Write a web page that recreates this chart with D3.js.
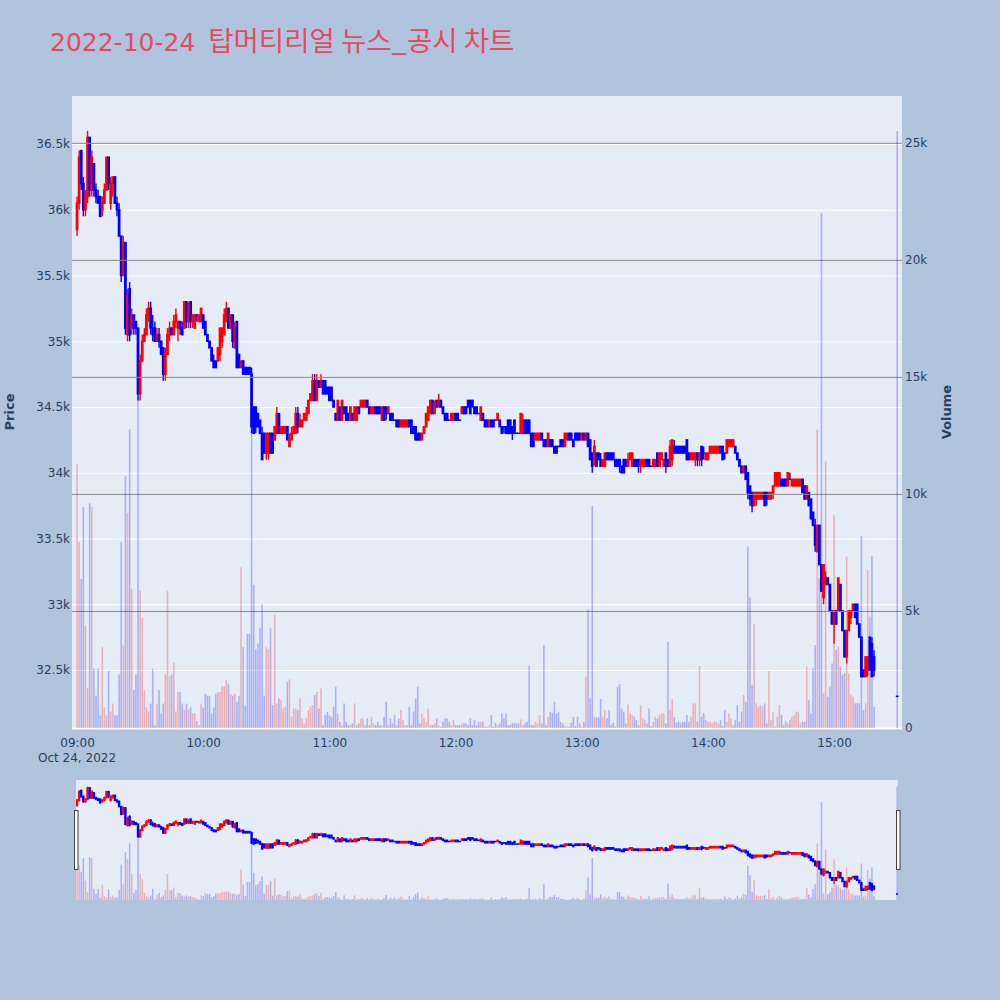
<!DOCTYPE html>
<html><head><meta charset="utf-8">
<script src="https://cdn.jsdelivr.net/npm/d3@7"></script>
<style>body{margin:0;background:#b0c4de;} svg{display:block;font-family:'DejaVu Sans','Noto Sans CJK KR',sans-serif;}</style>
</head><body><svg id="c" width="1000" height="1000"></svg>
<script>
// minute offsets from 09:00 (continuous session 09:00-15:19, closing auction 15:30)
const minuteIdx = d3.range(380).concat([390]);
const priceTicks = [32500,33000,33500,34000,34500,35000,35500,36000,36500];
const volumeTicks = [0,5000,10000,15000,20000,25000];
const hourTicks = [0,60,120,180,240,300,360];

const opens = [
35850,36050,36450,36200,36000,36100,36550,36150,36350,36150,
36100,36100,36000,36050,36150,36400,36050,36200,36250,36050,
36000,35800,35500,35750,35050,35400,35100,35200,35150,35100,
34600,34850,35000,35050,35200,35250,35100,35100,35000,35050,
35000,34950,34750,34900,35050,35100,35050,35150,35100,35150,
35100,35100,35300,35150,35300,35150,35100,35200,35150,35150,
35200,35150,35050,35000,34950,34850,34850,34850,34900,35000,
35050,35150,35250,35100,35200,34950,35150,34900,34800,34850,
34800,34800,34800,34750,34500,34500,34450,34400,34300,34300,
34150,34150,34300,34300,34250,34300,34450,34300,34300,34300,
34350,34200,34250,34300,34300,34450,34350,34350,34400,34400,
34450,34550,34550,34700,34550,34700,34650,34700,34700,34650,
34650,34650,34550,34450,34400,34500,34400,34500,34500,34450,
34400,34450,34400,34400,34500,34500,34500,34500,34550,34500,
34450,34450,34500,34500,34500,34400,34500,34500,34450,34450,
34450,34400,34400,34400,34350,34350,34350,34350,34400,34400,
34350,34350,34300,34300,34250,34300,34350,34400,34450,34550,
34450,34550,34500,34550,34500,34450,34450,34400,34400,34400,
34450,34450,34400,34450,34500,34500,34550,34550,34550,34500,
34500,34450,34400,34450,34400,34400,34350,34400,34400,34400,
34400,34400,34350,34350,34350,34400,34400,34350,34400,34300,
34300,34300,34300,34400,34400,34400,34300,34300,34250,34250,
34250,34300,34250,34250,34200,34250,34250,34200,34200,34200,
34250,34250,34200,34250,34300,34300,34250,34300,34300,34300,
34250,34300,34250,34300,34250,34150,34100,34150,34150,34100,
34050,34050,34150,34150,34150,34150,34100,34100,34100,34050,
34100,34100,34050,34100,34050,34100,34100,34100,34050,34050,
34050,34100,34100,34050,34050,34050,34150,34050,34100,34050,
34150,34100,34050,34100,34200,34200,34200,34200,34200,34200,
34250,34150,34100,34100,34100,34150,34100,34200,34150,34100,
34100,34150,34150,34150,34150,34150,34200,34200,34150,34150,
34200,34200,34200,34200,34150,34100,34050,34000,34050,34000,
33900,33850,33750,33800,33800,33800,33800,33850,33850,33800,
33800,33850,33900,33900,33900,33950,33950,33950,33900,33950,
33900,33900,33900,33900,33900,33950,33900,33800,33850,33800,
33700,33600,33400,33600,33300,33050,33150,33200,33150,32950,
32850,32950,32950,33150,32950,32800,32600,32800,32900,32950,
33000,33000,32850,32750,32500,32450,32500,32750,32700,32600,
32300];

const highs = [
36100,36450,36450,36250,36150,36600,36550,36450,36350,36200,
36150,36100,36100,36200,36400,36400,36250,36250,36250,36100,
36050,35800,35800,35750,35400,35450,35250,35200,35150,35100,
34900,35050,35100,35250,35300,35300,35200,35150,35100,35100,
35000,34950,34950,35100,35150,35100,35200,35250,35150,35150,
35150,35300,35300,35300,35300,35200,35200,35200,35200,35250,
35200,35150,35050,35000,34950,34900,34850,34950,35100,35100,
35250,35300,35250,35200,35200,35150,35150,34900,34850,34850,
34800,34800,34800,34800,34500,34500,34450,34400,34350,34300,
34300,34300,34300,34300,34350,34500,34450,34350,34350,34350,
34350,34300,34350,34350,34500,34500,34450,34400,34450,34500,
34550,34600,34750,34750,34750,34700,34750,34700,34700,34650,
34650,34650,34550,34450,34550,34500,34550,34500,34500,34450,
34500,34450,34500,34500,34500,34550,34550,34550,34550,34500,
34500,34500,34500,34500,34500,34500,34500,34500,34500,34450,
34450,34400,34400,34400,34400,34400,34400,34400,34400,34400,
34350,34350,34300,34300,34300,34350,34450,34500,34550,34550,
34550,34550,34600,34550,34500,34450,34450,34400,34450,34450,
34450,34450,34400,34500,34500,34500,34550,34550,34550,34500,
34500,34450,34500,34450,34400,34400,34400,34400,34400,34400,
34450,34400,34350,34350,34350,34400,34400,34350,34400,34300,
34300,34450,34450,34400,34400,34400,34300,34300,34300,34300,
34300,34300,34250,34250,34300,34250,34250,34200,34200,34200,
34250,34250,34300,34300,34300,34300,34250,34300,34300,34300,
34300,34300,34300,34300,34250,34150,34250,34150,34150,34150,
34100,34150,34150,34150,34150,34150,34100,34100,34100,34050,
34100,34100,34150,34150,34150,34100,34100,34100,34100,34100,
34100,34100,34100,34050,34100,34100,34150,34150,34150,34100,
34150,34100,34250,34250,34250,34200,34200,34200,34200,34200,
34250,34150,34150,34150,34150,34150,34150,34200,34200,34150,
34150,34200,34200,34200,34200,34200,34200,34200,34150,34250,
34250,34250,34250,34200,34150,34100,34050,34050,34050,34000,
33900,33850,33850,33850,33850,33850,33850,33850,33850,33850,
33850,33900,34000,34000,34000,33950,33950,33950,34000,34000,
33950,33950,33950,33950,33950,33950,33900,33900,33850,33800,
33700,33650,33600,33600,33300,33300,33250,33200,33150,32950,
32950,32950,33200,33150,32950,32800,32800,32950,32950,33000,
33000,33000,32850,32750,32500,32600,32600,32750,32750,32650,
32300];

const lows = [
35800,36000,36150,35950,35950,36050,36100,36100,36100,36050,
36050,35950,35950,36050,36150,36150,36000,36100,36050,35950,
35800,35450,35500,35050,35000,35000,35050,35050,35050,34550,
34550,34850,35000,35050,35150,35050,35000,35000,35000,34950,
34900,34700,34700,34900,35000,35050,35050,35100,35000,35050,
35050,35100,35100,35100,35100,35100,35100,35150,35150,35150,
35100,35050,35000,34950,34850,34800,34800,34850,34850,34950,
35050,35150,35100,35100,34950,34950,34800,34800,34800,34750,
34750,34750,34750,34300,34300,34300,34350,34300,34100,34150,
34100,34100,34150,34150,34250,34300,34300,34300,34300,34300,
34250,34200,34250,34300,34300,34300,34350,34350,34400,34400,
34450,34550,34550,34550,34550,34650,34650,34600,34600,34600,
34550,34550,34500,34400,34400,34400,34400,34450,34400,34400,
34400,34400,34400,34400,34450,34500,34500,34500,34500,34450,
34450,34450,34450,34450,34450,34400,34400,34400,34450,34400,
34400,34400,34350,34350,34350,34350,34350,34350,34350,34300,
34300,34250,34250,34250,34250,34300,34350,34400,34450,34450,
34450,34500,34500,34500,34450,34400,34400,34400,34400,34400,
34400,34400,34400,34450,34450,34450,34500,34450,34500,34450,
34450,34450,34400,34400,34350,34350,34350,34350,34350,34400,
34400,34350,34300,34300,34300,34300,34300,34250,34300,34300,
34300,34300,34300,34300,34300,34300,34200,34200,34250,34250,
34250,34250,34200,34200,34200,34200,34200,34150,34150,34200,
34200,34200,34200,34250,34250,34250,34200,34250,34250,34250,
34250,34250,34250,34200,34100,34000,34050,34050,34100,34050,
34050,34050,34100,34100,34100,34100,34050,34050,34000,34000,
34000,34050,34050,34100,34050,34050,34050,34000,34000,34050,
34050,34050,34050,34050,34050,34050,34050,34050,34100,34050,
34000,34050,34050,34050,34150,34150,34150,34150,34150,34150,
34100,34100,34100,34100,34050,34050,34050,34050,34100,34100,
34100,34150,34150,34150,34150,34150,34150,34100,34100,34150,
34200,34200,34200,34150,34100,34050,34000,34000,33950,33800,
33750,33700,33750,33750,33800,33800,33800,33750,33750,33800,
33800,33800,33900,33900,33900,33900,33900,33900,33900,33950,
33900,33900,33900,33900,33900,33850,33800,33800,33750,33650,
33600,33400,33400,33300,33100,33000,33150,33150,32950,32850,
32700,32850,32950,32950,32800,32600,32550,32800,32850,32950,
32900,32850,32750,32450,32450,32450,32450,32500,32450,32450,
32300];

const closes = [
36050,36400,36200,36000,36100,36550,36150,36400,36150,36100,
36050,35950,36050,36150,36400,36200,36200,36250,36050,36000,
35800,35500,35750,35100,35350,35050,35200,35100,35100,34600,
34850,35000,35050,35200,35250,35100,35050,35000,35050,35000,
34900,34750,34900,35050,35100,35050,35150,35200,35150,35100,
35050,35300,35150,35250,35150,35200,35200,35200,35200,35250,
35100,35050,35000,34950,34850,34800,34800,34950,35100,35100,
35200,35250,35100,35200,35000,35100,34800,34800,34850,34750,
34750,34750,34750,34350,34300,34350,34350,34300,34100,34150,
34300,34300,34150,34150,34350,34450,34300,34350,34350,34350,
34250,34250,34300,34350,34450,34350,34400,34400,34450,34450,
34550,34600,34700,34550,34700,34650,34700,34600,34600,34600,
34550,34550,34500,34400,34550,34400,34550,34450,34400,34400,
34500,34400,34500,34500,34450,34550,34550,34550,34500,34450,
34500,34500,34450,34450,34450,34500,34400,34450,34500,34400,
34400,34400,34350,34350,34400,34400,34400,34400,34350,34300,
34300,34250,34250,34250,34300,34350,34450,34500,34550,34450,
34500,34500,34550,34500,34450,34400,34400,34400,34450,34450,
34400,34400,34400,34500,34450,34450,34500,34450,34500,34450,
34450,34450,34500,34400,34350,34350,34400,34350,34350,34400,
34450,34350,34300,34350,34300,34300,34300,34300,34300,34300,
34300,34450,34400,34300,34300,34300,34200,34200,34300,34300,
34300,34250,34200,34200,34300,34200,34200,34150,34150,34200,
34200,34200,34300,34300,34250,34250,34200,34250,34250,34250,
34300,34250,34300,34200,34100,34050,34200,34050,34100,34050,
34100,34150,34100,34100,34100,34100,34050,34050,34050,34000,
34000,34050,34100,34150,34150,34050,34050,34050,34100,34100,
34100,34050,34050,34050,34100,34100,34050,34150,34150,34100,
34050,34050,34200,34250,34150,34150,34150,34150,34150,34150,
34100,34100,34150,34150,34150,34100,34150,34100,34150,34150,
34150,34200,34200,34200,34200,34200,34150,34100,34150,34250,
34250,34250,34250,34150,34100,34050,34000,34050,33950,33850,
33800,33750,33850,33850,33850,33850,33850,33750,33800,33850,
33850,33900,34000,34000,34000,33900,33900,33900,34000,33950,
33950,33950,33950,33950,33950,33850,33800,33900,33750,33650,
33600,33450,33600,33300,33100,33300,33200,33150,32950,32850,
32950,32850,33200,32950,32800,32600,32800,32950,32950,33000,
32900,32850,32750,32450,32450,32600,32600,32500,32450,32500,
32300];

const volumes = [
11270,7943,6363,9439,4367,1706,9606,9439,2537,1373,
2537,541,3452,874,541,2454,708,1041,541,541,
2288,7943,3535,10770,9190,12765,5947,1623,2288,14179,
5864,4700,1623,874,708,1041,2537,126,1041,1623,
625,1041,2288,5864,2205,2288,2787,708,1539,1539,
1041,791,1041,791,874,625,625,292,126,1041,
874,1456,1373,1373,625,874,1456,1539,1539,1789,
1789,2038,1872,1456,1373,1456,1124,1373,6862,3452,
957,4034,4034,14179,6113,3369,3618,4284,5281,1373,
3452,3369,4284,
979,4826,1050,1264,1193,836,907,1976,2076,480,
836,836,765,1264,409,195,409,765,907,979,
1406,1549,836,1691,124,551,694,551,480,907,
1762,622,266,124,1050,266,124,124,195,1050,
124,195,409,409,124,409,124,480,195,124,
266,124,124,480,1121,124,409,195,551,124,
409,765,338,124,124,907,124,694,1264,1762,
195,622,409,266,836,124,124,195,409,124,
53,266,409,409,266,124,338,124,124,124,
195,195,195,124,409,124,338,124,
267,267,267,53,53,125,552,53,225,125,
196,624,410,624,125,125,196,225,196,196,
367,125,196,267,2661,125,125,267,196,552,
196,3545,125,481,695,652,1122,624,695,267,
196,82,82,53,225,481,82,481,196,53,
267,2191,5069,1265,9487,481,453,453,1236,481,
766,410,766,125,225,53,1763,1877,837,695,
196,1008,624,552,481,339,125,980,410,339,
196,837,82,267,481,410,552,624,624,196,
3687,766,1236,481,
225,268,197,268,268,553,268,482,1052,1052,
268,2648,482,624,339,268,268,197,268,268,
197,339,83,767,268,624,410,125,339,981,
268,695,1407,1123,7749,5583,1835,4429,1052,909,
981,909,1052,197,2434,339,695,57,482,981,
553,125,268,197,339,482,553,695,695,197,
268,268,2619,1194,624,2548,3545,12736,6395,22000,
1479,11383,1336,1764,2761,9103,3331,3474,2619,2263,
2334,7322,2334,1407,1336,1052,1052,1052,8205,767,
1052,6752,4757,7350,909,
25500];

const titleDate = '2022-10-24 ';
const titleName = '탑머티리얼 뉴스_공시 차트';

// ---------- build ----------
const t0 = new Date(2022, 9, 24, 9, 0, 0);
const tm = m => new Date(t0.getTime() + m * 60000);
const data = minuteIdx.map((m, i) => ({t: tm(m), o: opens[i], h: highs[i], l: lows[i], c: closes[i], v: volumes[i]}));

const svg = d3.select('#c');
const FONT = "'DejaVu Sans',Verdana,sans-serif";
const L = 72, R = 902, T = 96, B = 728;
const x = d3.scaleTime().domain([tm(-2.4), tm(392.3)]).range([L, R]);
const yP = d3.scaleLinear().domain([32059, 36865]).range([B, T]);
const yV = d3.scaleLinear().domain([0, 27000]).range([B, T]);
const RED = '#ff0000', BLUE = '#0000ff';
const col = d => d.c > d.o ? RED : BLUE;
const txt = '#2a3f5f';

// title
const tt = svg.append('text').attr('x', 50).attr('y', 51).attr('fill', '#e8495f');
tt.append('tspan').attr('font-size', 25).attr('font-family', FONT).text(titleDate);
tt.append('tspan').attr('dx', 5).attr('font-size', 27.5).attr('font-family', "'Noto Sans CJK KR',sans-serif").text(titleName);

// plot background
svg.append('rect').attr('x', L).attr('y', T).attr('width', R - L).attr('height', B - T).attr('fill', '#e5ecf6');

// price grid + labels
const gP = svg.append('g').attr('transform', `translate(${L},0)`)
  .call(d3.axisLeft(yP).tickValues(priceTicks).tickSize(-(R - L)).tickPadding(2).tickFormat(d => (d / 1000) + 'k'));
gP.select('.domain').remove();
gP.selectAll('line').attr('stroke', '#ffffff').attr('stroke-width', 1);
gP.selectAll('text').attr('fill', txt).attr('font-size', 12).attr('font-family', FONT);

svg.append('clipPath').attr('id', 'cm').append('rect').attr('x', L).attr('y', T).attr('width', R - L).attr('height', B - T);

// candles
function drawCandles(g, ys, bw, ww) {
  const c = g.selectAll('g.cd').data(data).join('g').attr('class', 'cd');
  c.append('line').attr('x1', d => x(d.t)).attr('x2', d => x(d.t))
    .attr('y1', d => ys(Math.max(d.h, d.o, d.c))).attr('y2', d => ys(Math.min(d.l, d.o, d.c)))
    .attr('stroke', col).attr('stroke-width', ww);
  c.append('rect').attr('x', d => x(d.t) - bw / 2).attr('width', bw)
    .attr('y', d => ys(Math.max(d.o, d.c)) - 0.75)
    .attr('height', d => Math.abs(ys(d.o) - ys(d.c)) + 1.5)
    .attr('fill', col);
}
const gC = svg.append('g').attr('clip-path', 'url(#cm)');
drawCandles(gC, yP, 2.8, 1.4);

// volume grid (gray) + zero line + labels
const gV = svg.append('g').attr('transform', `translate(${R},0)`)
  .call(d3.axisRight(yV).tickValues(volumeTicks).tickSize(-(R - L)).tickPadding(3).tickFormat(d => d === 0 ? '0' : (d / 1000) + 'k'));
gV.select('.domain').remove();
gV.selectAll('line').attr('stroke', d => d === 0 ? '#ffffff' : '#8a8a8a').attr('stroke-width', d => d === 0 ? 2 : 1);
gV.selectAll('text').attr('fill', txt).attr('font-size', 12).attr('font-family', FONT);

// volume bars
function drawBars(g, ys, bw) {
  g.selectAll('rect.vb').data(data).join('rect').attr('class', 'vb')
    .attr('x', d => x(d.t) - bw / 2).attr('width', bw)
    .attr('y', d => ys(d.v)).attr('height', d => ys(0) - ys(d.v))
    .attr('fill', col).attr('fill-opacity', 0.25);
}
const gB = svg.append('g').attr('clip-path', 'url(#cm)');
drawBars(gB, yV, 1.6);

// x axis labels
const gX = svg.append('g').attr('transform', `translate(0,${B})`)
  .call(d3.axisBottom(x).tickValues(hourTicks.map(tm)).tickSize(0).tickPadding(10).tickFormat(d3.timeFormat('%H:%M')));
gX.select('.domain').remove();
gX.selectAll('text').attr('fill', txt).attr('font-size', 12).attr('font-family', FONT);
svg.append('text').attr('x', x(tm(0))).attr('y', 762).attr('text-anchor', 'middle').attr('font-size', 12)
  .attr('font-family', FONT).attr('fill', txt).text('Oct 24, 2022');

// axis titles
svg.append('text').attr('transform', `translate(14,${(T + B) / 2}) rotate(-90)`).attr('text-anchor', 'middle')
  .attr('font-size', 13).attr('font-weight', 'bold').attr('font-family', FONT).attr('fill', txt).text('Price');
svg.append('text').attr('transform', `translate(951,${(T + B) / 2}) rotate(-90)`).attr('text-anchor', 'middle')
  .attr('font-size', 13).attr('font-weight', 'bold').attr('font-family', FONT).attr('fill', txt).text('Volume');

// range slider
const sT = 780, sB = 900, sL = 76, sR = 898;
svg.append('rect').attr('x', sL).attr('y', sT).attr('width', sR - sL).attr('height', sB - sT).attr('fill', '#e5ecf6');
svg.append('clipPath').attr('id', 'cs').append('rect').attr('x', sL).attr('y', sT).attr('width', sR - sL).attr('height', sB - sT);
const yPs = d3.scaleLinear().domain(yP.domain()).range([sB, sT]);
const yVs = d3.scaleLinear().domain(yV.domain()).range([sB, sT]);
const gSc = svg.append('g').attr('clip-path', 'url(#cs)');
drawCandles(gSc, yPs, 2.4, 1.2);
const gSb = svg.append('g').attr('clip-path', 'url(#cs)');
drawBars(gSb, yVs, 1.5);
[sL - 2, sR - 2].forEach(hx => {
  svg.append('rect').attr('x', hx + 0.5).attr('y', 810.5).attr('width', 3.5).attr('height', 59)
    .attr('fill', '#ffffff').attr('stroke', '#444').attr('stroke-width', 1);
});
</script>
</body></html>
